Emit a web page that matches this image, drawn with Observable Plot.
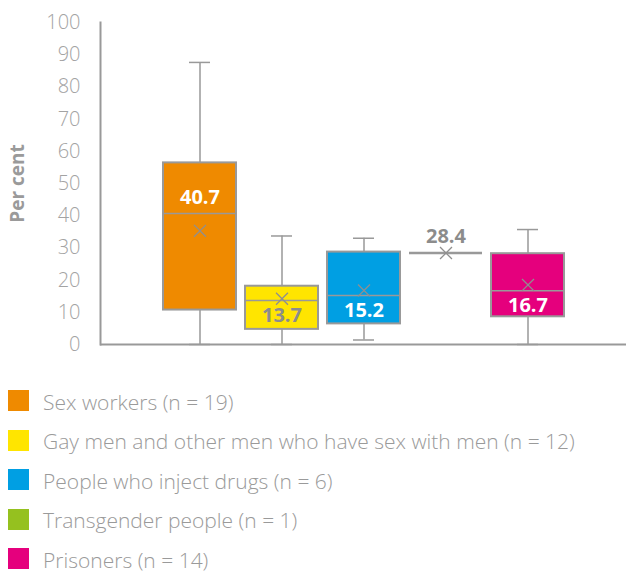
<!DOCTYPE html>
<html>
<head>
<meta charset="utf-8">
<script src="https://cdn.jsdelivr.net/npm/d3@7"></script>
<script src="https://cdn.jsdelivr.net/npm/@observablehq/plot@0.6"></script>
<style>
  html, body { margin: 0; padding: 0; background: #fff; }
  body { width: 628px; font-family: "Open Sans", "Noto Sans", sans-serif; }
  #legend { margin-top: 11px; }
  .row { display: flex; align-items: center; height: 39.5px; }
  .sw { width: 21px; height: 21px; margin-left: 8px; margin-right: 14px; flex: none; }
  .lbl { font-size: 21px; line-height: 24px; color: #9a9a9a; font-weight: 300; position: relative; top: 1px; white-space: nowrap; }
</style>
</head>
<body>
<div id="chart"></div>
<div id="legend"></div>
<script>
// ---- data ----
const groups = ["Sex workers", "Gay men and other men who have sex with men", "People who inject drugs", "Transgender people", "Prisoners"];
const counts = [19, 12, 6, 1, 14];
const colors = ["#EF8A00", "#FFE500", "#009FE3", "#95C11F", "#E5007D"];
const minVals = [0, 0, 1.4, 28.4, 0];
const q1Vals = [10.7, 4.7, 6.4, 28.4, 8.6];
const medians = [40.7, 13.7, 15.2, 28.4, 16.7];
const q3Vals = [56.4, 18.1, 28.7, 28.4, 28.2];
const maxVals = [87.6, 33.7, 33.0, 28.4, 35.7];
const means = [35.3, 14.2, 16.8, 28.4, 18.5];
const yTicks = [0, 10, 20, 30, 40, 50, 60, 70, 80, 90, 100];

const rows = groups.map((g, i) => ({
  group: g, n: counts[i], min: minVals[i], q1: q1Vals[i], median: medians[i],
  q3: q3Vals[i], max: maxVals[i], mean: means[i]
}));
const boxes = rows.filter(d => d.n > 1);
const single = rows.filter(d => d.n === 1);

const gray = "#999999";
const labelAbove = new Set(["Sex workers", "Transgender people"]);
const darkLabel = new Set(["Gay men and other men who have sex with men", "Transgender people"]);
const labelFill = d => darkLabel.has(d.group) ? "#8c8c8c" : "#ffffff";

const chart = Plot.plot({
  width: 628,
  height: 370,
  marginLeft: 100,
  marginRight: 2,
  marginTop: 22,
  marginBottom: 26,
  style: { fontFamily: "'Open Sans', 'Noto Sans', sans-serif", background: "#fff" },
  x: { domain: groups, paddingInner: 0.11, paddingOuter: 0.76, axis: null },
  y: { domain: [0, 100], axis: null },
  color: { domain: groups, range: colors },
  marks: [
    Plot.axisY({ ticks: yTicks, tickSize: 0, tickPadding: 20, fontSize: 20, fontWeight: 300, fill: "#a3a3a3", label: null }),
    Plot.text(["Per cent"], { frameAnchor: "left", dx: -83, rotate: -90, textAnchor: "middle", fontSize: 19, fontWeight: "bold", fill: "#9a9a9a" }),
    // whiskers
    Plot.ruleX(boxes, { x: "group", y1: "min", y2: "q1", stroke: gray, strokeWidth: 1.5 }),
    Plot.ruleX(boxes, { x: "group", y1: "q3", y2: "max", stroke: gray, strokeWidth: 1.5 }),
    Plot.tickY(boxes, { x: "group", y: "min", stroke: gray, strokeWidth: 1.5, insetLeft: 26, insetRight: 26 }),
    Plot.tickY(boxes, { x: "group", y: "max", stroke: gray, strokeWidth: 1.5, insetLeft: 26, insetRight: 26 }),
    // boxes
    Plot.barY(boxes, { x: "group", y1: "q1", y2: "q3", fill: "group", stroke: gray, strokeWidth: 2 }),
    // medians
    Plot.tickY(boxes, { x: "group", y: "median", stroke: gray, strokeWidth: 1.5 }),
    Plot.tickY(single, { x: "group", y: "median", stroke: gray, strokeWidth: 2.5 }),
    // means
    Plot.dot(rows, { x: "group", y: "mean", symbol: "times", r: 5.5, stroke: "#8f8f8f", strokeWidth: 1.3 }),
    // median labels
    Plot.text(rows, {
      x: "group", y: "median", text: d => d.median.toFixed(1),
      fontSize: 20, fontWeight: "bold", fill: labelFill,
      filter: d => labelAbove.has(d.group), dy: -16
    }),
    Plot.text(rows, {
      x: "group", y: "median", text: d => d.median.toFixed(1),
      fontSize: 20, fontWeight: "bold", fill: labelFill,
      filter: d => !labelAbove.has(d.group), dy: 15
    }),
    // axis lines
    Plot.frame({ anchor: "left", stroke: gray, strokeWidth: 2 }),
    Plot.ruleY([0], { stroke: gray, strokeWidth: 2 })
  ]
});
document.getElementById("chart").appendChild(chart);

const legend = d3.select("#legend");
groups.forEach((g, i) => {
  const r = legend.append("div").attr("class", "row");
  r.append("div").attr("class", "sw").style("background", colors[i]);
  r.append("div").attr("class", "lbl").text(`${g} (n = ${counts[i]})`);
});
</script>
</body>
</html>
